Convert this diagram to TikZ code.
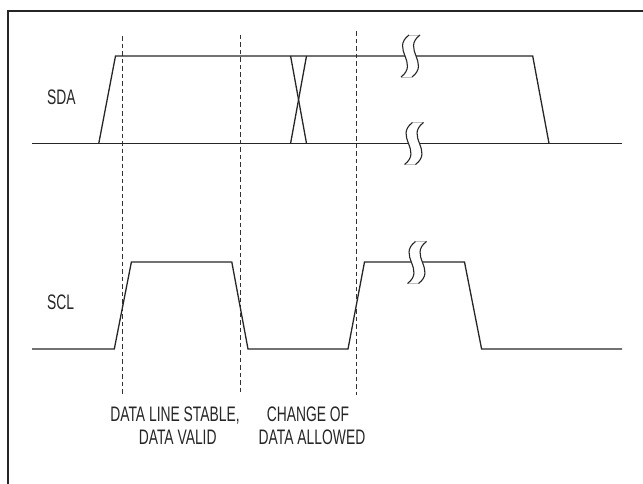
\documentclass[tikz,border=0pt]{standalone}
\usepackage{fontspec}
\newfontfamily\condfont[FakeStretch=0.66]{Liberation Sans}
\begin{document}
\begin{tikzpicture}[x=1pt,y=-1pt,
  sig/.style={line width=1.3pt,color=black!85,line join=miter},
  guide/.style={line width=1.1pt,color=black!80,dash pattern=on 4.5pt off 3pt},
  lbl/.style={inner sep=0pt,font=\condfont\fontsize{21}{23}\selectfont,text=black!85},
  breakcurve/.style={line width=1.1pt,color=black!85},
  breakcap/.style={line width=0.8pt,color=black!25}]
\useasboundingbox (0,0) rectangle (643,484);
% frame
\draw[line width=1.6pt,color=black!85] (8,484) -- (8,11) -- (643,11);
% guides
\coordinate (g1t) at (122.4,36.5); \coordinate (g1b) at (122.4,395);
\coordinate (g2t) at (240.8,35); \coordinate (g2b) at (240.8,393);
\coordinate (g3t) at (356.3,31.5); \coordinate (g3b) at (356.3,395);
\draw[guide] (g1t) -- (g1b);
\draw[guide] (g2t) -- (g2b);
\draw[guide] (g3t) -- (g3b);
% SDA
\draw[sig] (32,143.3) -- (622,143.3);
\draw[sig] (98.8,143.3) -- (115.5,56) -- (532.7,56) -- (549,143.3);
\draw[sig] (290.6,56) -- (306.5,143.3);
\draw[sig] (306.5,56) -- (290.6,143.3);
% SCL
\draw[sig] (32,349) -- (114.3,349) -- (131.4,262) -- (231.8,262) -- (248,349)
  -- (348,349) -- (364.5,262) -- (464.5,262) -- (481.6,349) -- (622,349);
% breaks
\foreach \cx/\cy in {410.5/56, 414/143.5, 417/262.5}{
  \begin{scope}[shift={(\cx,\cy)}]
    \fill[white] (-1.5,-21) .. controls (-20,-7) and (9,7) .. (-9.5,21)
      -- (1.5,21) .. controls (20,7) and (-9,-7) .. (9.5,-21) -- cycle;
    \draw[breakcap] (-1.5,-21) -- (9.5,-21);
    \draw[breakcap] (-9.5,21) -- (1.5,21);
    \draw[breakcurve] (-1.5,-21) .. controls (-20,-7) and (9,7) .. (-9.5,21);
    \draw[breakcurve] (9.5,-21) .. controls (-9,-7) and (20,7) .. (1.5,21);
  \end{scope}
}
% labels
\node[lbl,anchor=base west] (sda) at (47,105) {SDA};
\node[lbl,anchor=base west] (scl) at (47,309.5) {SCL};
\node[lbl,anchor=base] (st1) at (175,421.7) {DATA LINE STABLE,};
\node[lbl,anchor=base] (st2) at (177.7,444.3) {DATA VALID};
\node[lbl,anchor=base] (ch1) at (308,421.7) {CHANGE OF};
\node[lbl,anchor=base] (ch2) at (312,444.3) {DATA ALLOWED};
\end{tikzpicture}
\end{document}
